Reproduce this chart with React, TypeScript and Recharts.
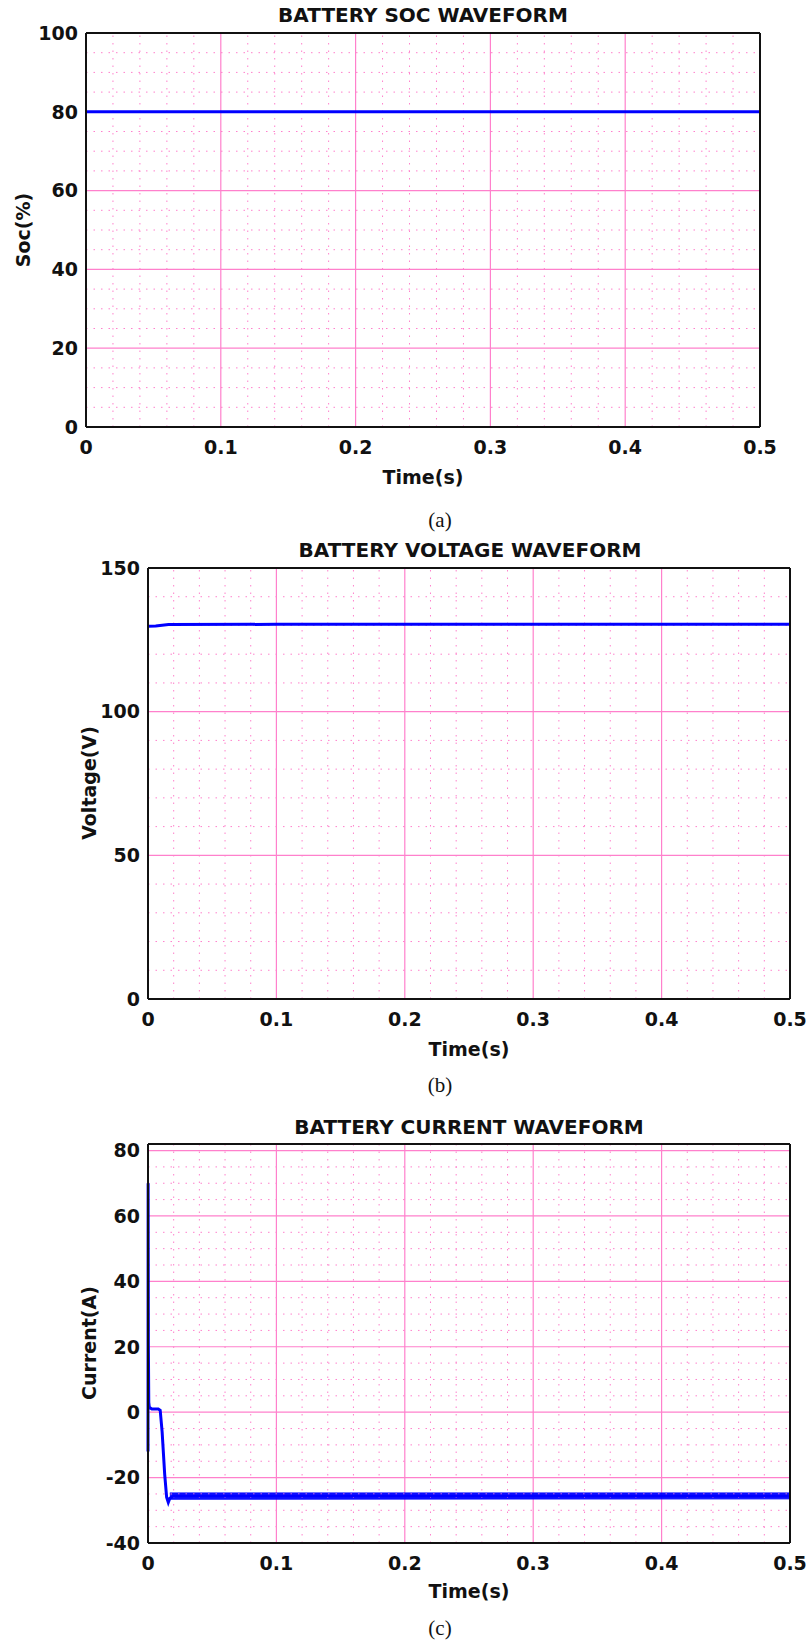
import React from "react";
import { ComposedChart, Line, Area, XAxis, YAxis, CartesianGrid, ReferenceLine } from "recharts";

// shared time axis
const timeTicks = [0, 0.1, 0.2, 0.3, 0.4, 0.5];
const timeMinor = [0.02, 0.04, 0.06, 0.08, 0.12, 0.14, 0.16, 0.18, 0.22, 0.24, 0.26, 0.28, 0.32, 0.34, 0.36, 0.38, 0.42, 0.44, 0.46, 0.48];

// (a) SOC
const socTime = [0, 0.5];
const socValues = [80, 80];
const socTicks = [0, 20, 40, 60, 80, 100];
const socMinor = [5, 10, 15, 25, 30, 35, 45, 50, 55, 65, 70, 75, 85, 90, 95];

// (b) voltage
const voltTime = [0, 0.006, 0.016, 0.1, 0.5];
const voltValues = [129.7, 129.8, 130.3, 130.4, 130.4];
const voltTicks = [0, 50, 100, 150];
const voltMinor = [10, 20, 30, 40, 60, 70, 80, 90, 110, 120, 130, 140];

// (c) current
const curTime = [0, 0.0001, 0.0003, 0.0006, 0.001, 0.003, 0.008, 0.0095, 0.011, 0.013, 0.0145, 0.0158, 0.017, 0.02, 0.1, 0.5];
const curValues = [-12, 70, 20, 3, 1.5, 1, 1, 0.6, -6, -19, -26, -27.6, -26.3, -25.6, -25.6, -25.6];
const rippleTime = [0.017, 0.5];
const rippleLow = [-26.6, -26.5];
const rippleHigh = [-24.7, -24.7];
const curTicks = [-40, -20, 0, 20, 40, 60, 80];
const curMinor = [-35, -30, -25, -15, -10, -5, 5, 10, 15, 25, 30, 35, 45, 50, 55, 65, 70, 75];

const FONT = "'DejaVu Sans', Verdana, sans-serif";
const PINK = "#ff80cc";
const BLUE = "#0000ff";

const toRows = (t: number[], v: number[]) => t.map((x, i) => ({ t: x, v: v[i] }));

function Txt({ x, y, size, rotate, serif, children }: any) {
  return (
    <div
      style={{
        position: "absolute",
        left: x,
        top: y,
        transform: `translate(-50%, -50%)${rotate ? " rotate(-90deg)" : ""}`,
        fontFamily: serif ? "'Liberation Serif', 'Times New Roman', serif" : FONT,
        fontWeight: serif ? "normal" : "bold",
        fontSize: size,
        lineHeight: 1,
        whiteSpace: "nowrap",
        color: "#111",
      }}
    >
      {children}
    </div>
  );
}

function Panel({ top, height, marginTop, axisWidth, rightGap, yTicks, yDomain, yMinor, rows, ripple }: any) {
  const tickStyle = { fill: "#111", fontSize: 19, fontWeight: "bold", fontFamily: FONT };
  const merged = ripple ? [...rows, ...ripple].sort((a: any, b: any) => a.t - b.t) : rows;
  return (
    <div style={{ position: "absolute", left: 0, top }}>
      <ComposedChart width={811} height={height} data={merged} margin={{ top: marginTop, right: rightGap, left: 0, bottom: 0 }}>
        <CartesianGrid stroke={PINK} strokeWidth={1.2} />
        {timeMinor.map((m) => (
          <ReferenceLine key={"x" + m} x={m} stroke={PINK} strokeWidth={1} strokeDasharray="1.5 6" />
        ))}
        {yMinor.map((m: number) => (
          <ReferenceLine key={"y" + m} y={m} stroke={PINK} strokeWidth={1} strokeDasharray="1.5 6" />
        ))}
        <XAxis
          dataKey="t"
          type="number"
          domain={[0, 0.5]}
          ticks={timeTicks}
          interval={0}
          height={43}
          tickMargin={8}
          tickLine={false}
          axisLine={{ stroke: "#111", strokeWidth: 2 }}
          tick={tickStyle}
        />
        <YAxis
          type="number"
          domain={yDomain}
          ticks={yTicks}
          interval={0}
          width={axisWidth}
          tickLine={false}
          allowDataOverflow
          axisLine={{ stroke: "#111", strokeWidth: 2 }}
          tick={tickStyle}
        />
        {ripple && (
          <Area dataKey="band" stroke={BLUE} strokeWidth={1} fill={BLUE} fillOpacity={0.9} connectNulls isAnimationActive={false} dot={false} activeDot={false} />
        )}
        <Line dataKey="v" stroke={BLUE} strokeWidth={3} dot={false} activeDot={false} connectNulls isAnimationActive={false} />
        <ReferenceLine y={yDomain[1]} stroke="#111" strokeWidth={2} />
        <ReferenceLine x={0.5} stroke="#111" strokeWidth={2} />
      </ComposedChart>
    </div>
  );
}

export default function App() {
  const socRows = toRows(socTime, socValues);
  const voltRows = toRows(voltTime, voltValues);
  const curRows = toRows(curTime, curValues);
  const rippleRows = rippleTime.map((t, i) => ({ t, band: [rippleLow[i], rippleHigh[i]] }));

  return (
    <div style={{ position: "absolute", left: 0, top: 0, width: 811, height: 1644, background: "#fff" }}>
      <Txt x={423} y={15} size={20}>BATTERY SOC WAVEFORM</Txt>
      <Panel top={0} height={470} marginTop={33} axisWidth={86} rightGap={51} yTicks={socTicks} yDomain={[0, 100]} yMinor={socMinor} rows={socRows} />
      <Txt x={23} y={230} size={19} rotate>Soc(%)</Txt>
      <Txt x={423} y={477} size={19}>Time(s)</Txt>
      <Txt x={440} y={520} size={21} serif>(a)</Txt>

      <Txt x={470} y={550} size={20}>BATTERY VOLTAGE WAVEFORM</Txt>
      <Panel top={540} height={502} marginTop={28} axisWidth={148} rightGap={21} yTicks={voltTicks} yDomain={[0, 150]} yMinor={voltMinor} rows={voltRows} />
      <Txt x={89} y={783} size={19} rotate>Voltage(V)</Txt>
      <Txt x={469} y={1049} size={19}>Time(s)</Txt>
      <Txt x={440} y={1085} size={21} serif>(b)</Txt>

      <Txt x={469} y={1127} size={20}>BATTERY CURRENT WAVEFORM</Txt>
      <Panel top={1120} height={466} marginTop={24} axisWidth={148} rightGap={21} yTicks={curTicks} yDomain={[-40, 82]} yMinor={curMinor} rows={curRows} ripple={rippleRows} />
      <Txt x={89} y={1343} size={19} rotate>Current(A)</Txt>
      <Txt x={469} y={1591} size={19}>Time(s)</Txt>
      <Txt x={440} y={1628} size={21} serif>(c)</Txt>
    </div>
  );
}
